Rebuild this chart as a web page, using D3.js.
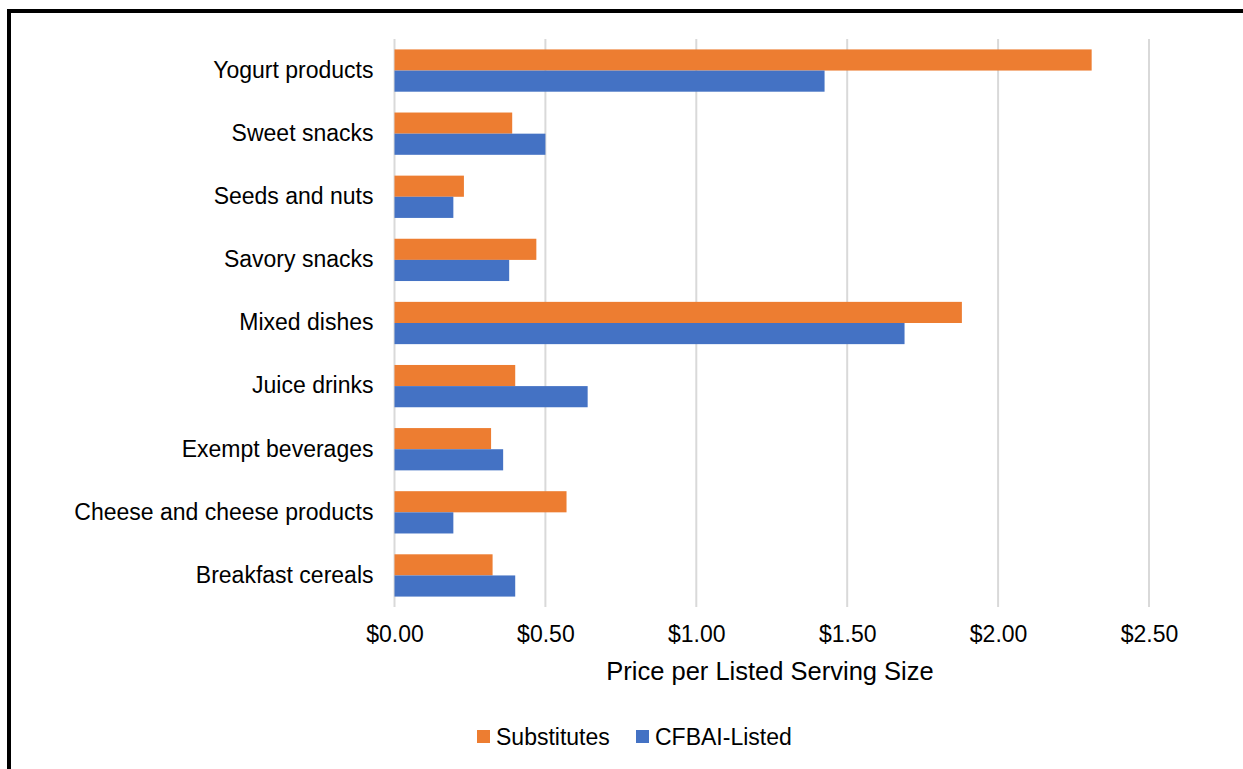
<!DOCTYPE html>
<html lang="en">
<head>
    <meta charset="UTF-8">
    <title>Price per Listed Serving Size</title>
    <script src="https://d3js.org/d3.v7.min.js"></script>
    <style>
        body { margin: 0; background: #fff; }
        text { font-family: "Liberation Sans", Arial, sans-serif; fill: #000; }
        g.axis text { font-size: 23px; }
        g.axis path { display: none; }
    </style>
</head>
<body>
<svg width="1243" height="769"></svg>
<script>
    // categories top to bottom
    const categories = ["Yogurt products", "Sweet snacks", "Seeds and nuts", "Savory snacks",
        "Mixed dishes", "Juice drinks", "Exempt beverages", "Cheese and cheese products", "Breakfast cereals"];
    const substitutes = [2.31, 0.39, 0.23, 0.47, 1.88, 0.40, 0.32, 0.57, 0.325];
    const cfbaiListed = [1.425, 0.50, 0.195, 0.38, 1.69, 0.64, 0.36, 0.195, 0.40];
    const xTicks = [0, 0.5, 1, 1.5, 2, 2.5];
    const seriesNames = ["Substitutes", "CFBAI-Listed"];
    const colors = ["#ed7d31", "#4472c4"];

    const svg = d3.select("svg");
    const plotLeft = 394.5, plotRight = 1149, plotTop = 39, plotBottom = 607;

    // frame: only top and left edges are visible
    svg.append("rect").attr("x", 7).attr("y", 9).attr("width", 1243).attr("height", 4).attr("fill", "#000");
    svg.append("rect").attr("x", 7).attr("y", 9).attr("width", 4).attr("height", 769).attr("fill", "#000");

    let xScale = d3.scaleLinear().domain([0, 2.5]).range([plotLeft, plotRight]);
    let yScale = d3.scaleBand().domain(categories).range([plotTop, plotBottom]).paddingInner(0.33).paddingOuter(0.165);
    let sub = d3.scaleBand().domain(seriesNames).range([0, yScale.bandwidth()]);

    // gridlines
    svg.append("g").selectAll("line")
        .data(xTicks)
        .enter().append("line")
        .attr("x1", d => xScale(d)).attr("x2", d => xScale(d))
        .attr("y1", plotTop).attr("y2", plotBottom)
        .attr("stroke", "#d9d9d9").attr("stroke-width", 2);

    let rows = categories.map((c, i) => ({cat: c, vals: [substitutes[i], cfbaiListed[i]]}));

    let groups = svg.append("g").selectAll("g")
        .data(rows)
        .enter().append("g")
        .attr("transform", d => `translate(0,${yScale(d.cat)})`);

    groups.selectAll("rect")
        .data(d => d.vals.map((v, j) => ({v: v, s: seriesNames[j], j: j})))
        .enter().append("rect")
        .attr("x", xScale(0))
        .attr("y", d => sub(d.s))
        .attr("width", d => xScale(d.v) - xScale(0))
        .attr("height", sub.bandwidth())
        .attr("fill", d => colors[d.j]);

    // category axis
    svg.append("g")
        .attr("class", "axis")
        .attr("transform", `translate(${plotLeft - 21},0)`)
        .call(d3.axisLeft(yScale).tickSize(0).tickPadding(0))
        .selectAll(".tick line").remove();

    // value axis
    svg.append("g")
        .attr("class", "axis")
        .attr("transform", `translate(0,${plotBottom})`)
        .call(d3.axisBottom(xScale).tickValues(xTicks).tickSize(0).tickPadding(19).tickFormat(d => "$" + d3.format(".2f")(d)));

    svg.append("text")
        .attr("x", 770).attr("y", 680)
        .attr("text-anchor", "middle")
        .attr("font-size", "25.5px")
        .text("Price per Listed Serving Size");

    // legend
    const legendX = [477, 636];
    let legend = svg.append("g").selectAll("g")
        .data(seriesNames)
        .enter().append("g")
        .attr("transform", (d, i) => `translate(${legendX[i]},730)`);
    legend.append("rect").attr("width", 13).attr("height", 13).attr("fill", (d, i) => colors[i]);
    legend.append("text").attr("x", 19).attr("y", 15).attr("font-size", "23px").text(d => d);
</script>
</body>
</html>
